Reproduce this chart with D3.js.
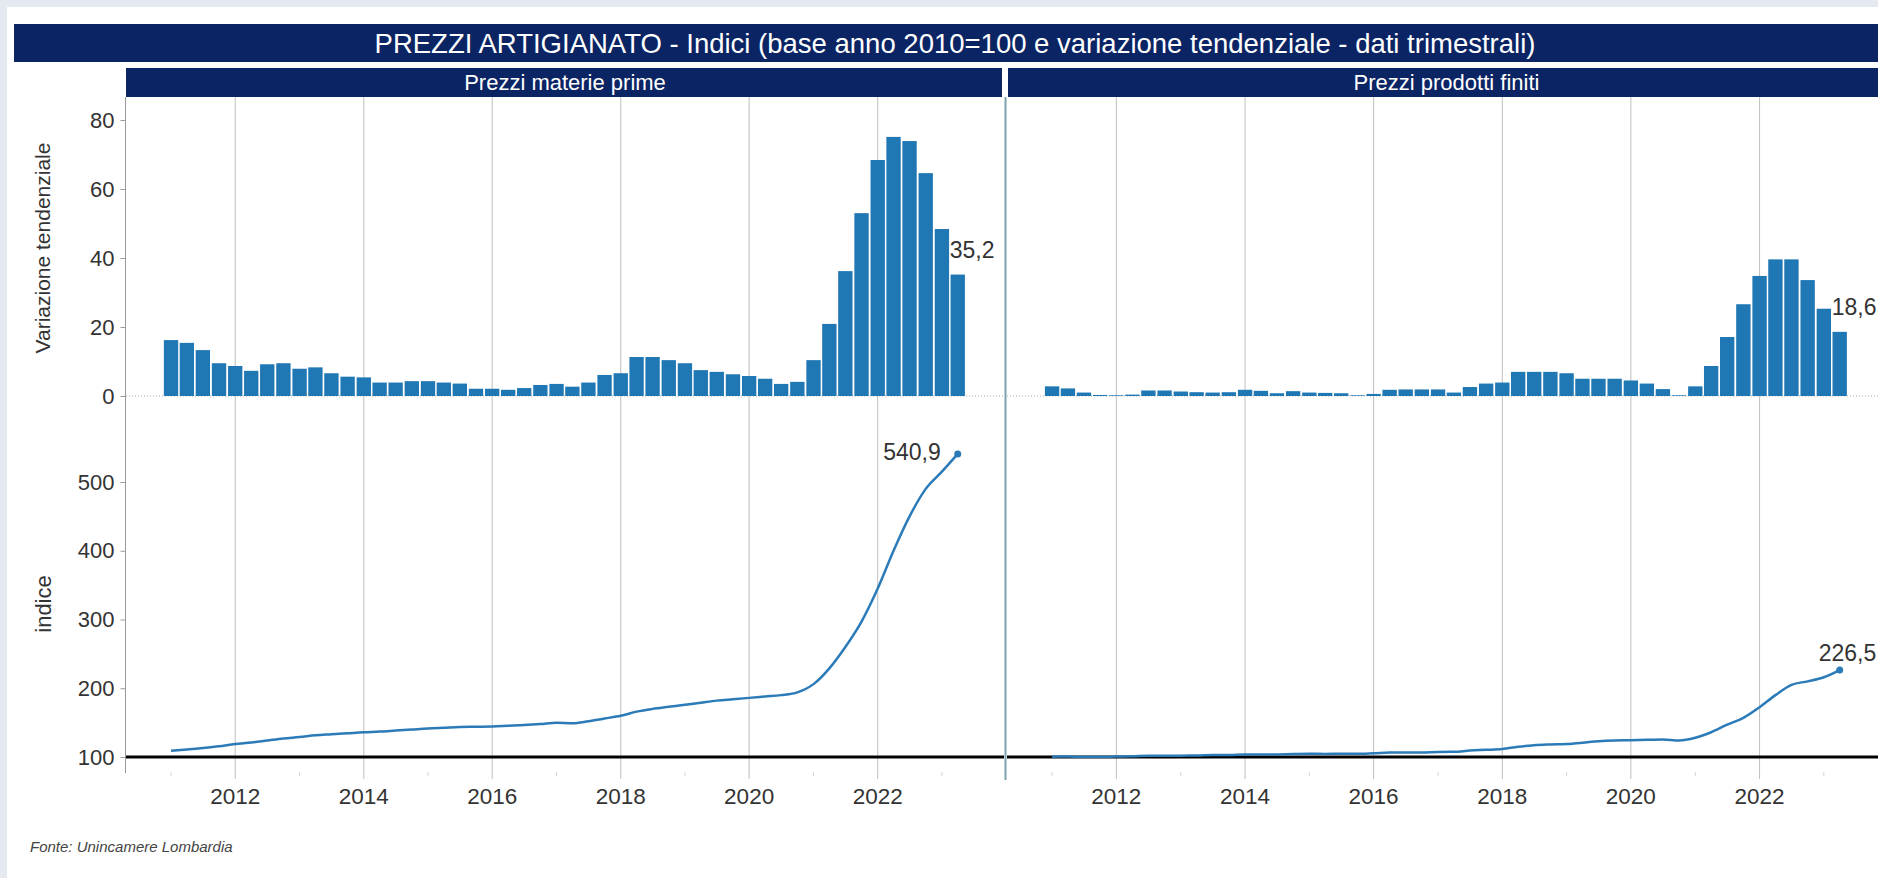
<!DOCTYPE html>
<html>
<head>
<meta charset="utf-8">
<script src="https://cdn.jsdelivr.net/npm/d3@7"></script>
<style>
  html, body { margin: 0; padding: 0; background: #e4e8ef; }
  svg { display: block; font-family: "Liberation Sans", Arial, sans-serif; }
</style>
</head>
<body>
<svg id="chart" width="1878" height="878"></svg>
<script>
// quarterly periods (first month of each quarter)
const periods = [
  '2011-01', '2011-04', '2011-07', '2011-10',
  '2012-01', '2012-04', '2012-07', '2012-10',
  '2013-01', '2013-04', '2013-07', '2013-10',
  '2014-01', '2014-04', '2014-07', '2014-10',
  '2015-01', '2015-04', '2015-07', '2015-10',
  '2016-01', '2016-04', '2016-07', '2016-10',
  '2017-01', '2017-04', '2017-07', '2017-10',
  '2018-01', '2018-04', '2018-07', '2018-10',
  '2019-01', '2019-04', '2019-07', '2019-10',
  '2020-01', '2020-04', '2020-07', '2020-10',
  '2021-01', '2021-04', '2021-07', '2021-10',
  '2022-01', '2022-04', '2022-07', '2022-10',
  '2023-01', '2023-04',
];

// variazione tendenziale (%)
const materiePrimeVar = [
  16.2, 15.4, 13.3, 9.5,
  8.7, 7.3, 9.2, 9.5,
  7.9, 8.3, 6.6, 5.6,
  5.4, 3.9, 3.9, 4.3,
  4.3, 3.9, 3.6, 2.1,
  2.1, 1.8, 2.3, 3.2,
  3.5, 2.7, 3.9, 6.1,
  6.6, 11.3, 11.3, 10.4,
  9.5, 7.5, 7.0, 6.3,
  5.8, 5.0, 3.5, 4.1,
  10.4, 20.9, 36.2, 53.0,
  68.4, 75.1, 73.9, 64.6,
  48.4, 35.2,
];
const prodottiFinitiVar = [
  2.8, 2.2, 1.0, 0.3,
  0.2, 0.4, 1.6, 1.6,
  1.3, 1.1, 1.0, 1.1,
  1.8, 1.5, 0.8, 1.4,
  1.0, 0.9, 0.8, 0.2,
  0.6, 1.8, 1.9, 1.9,
  1.9, 1.0, 2.6, 3.6,
  3.9, 7.0, 7.0, 7.0,
  6.6, 5.0, 5.0, 5.0,
  4.5, 3.6, 2.0, 0.2,
  2.8, 8.7, 17.1, 26.6,
  34.8, 39.6, 39.6, 33.6,
  25.3, 18.6,
];

// indici (base 2010=100)
const materiePrimeIdx = [
  109, 111, 113, 115.5,
  119, 121, 124, 127,
  129, 131.5, 133, 134.5,
  136, 137, 138.5, 140,
  141.5, 142.5, 143.5, 144,
  144.5, 145.5, 146.5, 148,
  150, 149, 152, 156,
  160, 166, 170, 173,
  176, 179, 182, 184,
  186, 188, 190, 194,
  206, 229, 260, 297,
  345, 400, 450, 490,
  515, 540.9,
];
const prodottiFinitiIdx = [
  100.5, 100.6, 100.4, 100.3,
  100.7, 101.0, 102.0, 101.9,
  102.0, 102.1, 103.0, 103.0,
  103.8, 103.6, 103.8, 104.4,
  104.8, 104.5, 104.6, 104.6,
  105.4, 106.4, 106.6, 106.6,
  107.4, 107.5, 109.4, 110.4,
  111.6, 115.0, 117.1, 118.2,
  119.0, 120.8, 123.0, 124.1,
  124.4, 125.1, 125.5, 124.0,
  128.0, 136.0, 147.0, 157.0,
  172.5, 190.0, 205.0, 210.0,
  216.0, 226.5,
];

// axis ticks
const yearTicks = [2012, 2014, 2016, 2018, 2020, 2022];
const minorYears = [2011, 2013, 2015, 2017, 2019, 2021, 2023];
const varTicks = [0, 20, 40, 60, 80];
const idxTicks = [100, 200, 300, 400, 500];

const panels = [
  { name: 'Prezzi materie prime', variation: materiePrimeVar, index: materiePrimeIdx, left: 126, right: 1004 },
  { name: 'Prezzi prodotti finiti', variation: prodottiFinitiVar, index: prodottiFinitiIdx, left: 1007, right: 1886 },
];

const navy = '#0b2463';
const blue = '#1f77b4';
const textColor = '#333';

const svg = d3.select('#chart');
const parseMonth = d3.timeParse('%Y-%m');
const dates = periods.map(parseMonth);

// italian number format (comma decimal)
const it = d3.formatLocale({ decimal: ',', thousands: '.', grouping: [3], currency: ['€', ''] });
const fmt = it.format('.1f');

// pane vertical layout
const paneTop = 97;
const axisBottom = 773;

// y scales shared by both panels
const yVar = d3.scaleLinear().domain([0, 80]).range([396, 120]);
const yIdx = d3.scaleLinear().domain([100, 500]).range([757, 482]);

// white background panel
svg.append('rect').attr('x', 7).attr('y', 7).attr('width', 1900).attr('height', 900).attr('fill', '#fff');

// main title bar
svg.append('rect').attr('x', 14).attr('y', 24).attr('width', 1890).attr('height', 38).attr('fill', navy);
svg.append('text')
  .attr('x', 955).attr('y', 43).attr('dy', '0.35em')
  .attr('text-anchor', 'middle')
  .attr('fill', '#fff').attr('font-size', 27.5)
  .text('PREZZI ARTIGIANATO - Indici (base anno 2010=100 e variazione tendenziale - dati trimestrali)');

panels.forEach(function (p, i) {
  const x = d3.scaleTime()
    .domain([new Date(2010, 3, 20), new Date(2023, 11, 20)])
    .range([p.left, p.right]);

  const g = svg.append('g');

  // sub header bar
  g.append('rect')
    .attr('x', p.left + (i === 0 ? 0 : 1)).attr('y', 68)
    .attr('width', p.right - p.left - 2).attr('height', 29)
    .attr('fill', navy);
  g.append('text')
    .attr('x', (p.left + p.right) / 2).attr('y', 82.5).attr('dy', '0.35em')
    .attr('text-anchor', 'middle').attr('fill', '#fff').attr('font-size', 22)
    .text(p.name);

  // vertical year gridlines
  g.selectAll('.grid')
    .data(yearTicks)
    .join('line')
    .attr('x1', d => x(new Date(d, 0, 1)))
    .attr('x2', d => x(new Date(d, 0, 1)))
    .attr('y1', paneTop).attr('y2', axisBottom + 6)
    .attr('stroke', '#bfbfbf').attr('stroke-width', 1);

  // minor ticks at odd years
  g.selectAll('.minor')
    .data(minorYears)
    .join('line')
    .attr('x1', d => x(new Date(d, 0, 1)))
    .attr('x2', d => x(new Date(d, 0, 1)))
    .attr('y1', axisBottom - 1).attr('y2', axisBottom + 3)
    .attr('stroke', '#d4d4d4').attr('stroke-width', 1);

  // year labels
  g.selectAll('.year')
    .data(yearTicks)
    .join('text')
    .attr('x', d => x(new Date(d, 0, 1)))
    .attr('y', 796).attr('dy', '0.35em')
    .attr('text-anchor', 'middle').attr('fill', textColor).attr('font-size', 22.5)
    .text(d => d);

  // dotted zero line in the variation pane
  g.append('line')
    .attr('x1', p.left).attr('x2', p.right)
    .attr('y1', yVar(0)).attr('y2', yVar(0))
    .attr('stroke', '#aaa').attr('stroke-dasharray', '1,2');

  // variation bars
  const step = x(dates[1]) - x(dates[0]);
  const barW = step - 1.5;
  g.selectAll('.bar')
    .data(p.variation)
    .join('rect')
    .attr('x', (d, j) => x(dates[j]) - barW / 2)
    .attr('y', d => yVar(Math.max(d, 0)))
    .attr('width', barW)
    .attr('height', d => Math.abs(yVar(d) - yVar(0)))
    .attr('fill', blue);

  // label on last bar
  const last = p.variation.length - 1;
  g.append('text')
    .attr('x', x(dates[last]) - 8)
    .attr('y', yVar(p.variation[last]) - 25).attr('dy', '0.35em')
    .attr('fill', textColor).attr('font-size', 23)
    .text(fmt(p.variation[last]));

  // reference line at 100
  g.append('line')
    .attr('x1', p.left).attr('x2', p.right)
    .attr('y1', yIdx(100)).attr('y2', yIdx(100))
    .attr('stroke', '#000').attr('stroke-width', 3);

  // index line
  const line = d3.line()
    .x((d, j) => x(dates[j]))
    .y(d => yIdx(d))
    .curve(d3.curveMonotoneX);
  g.append('path')
    .datum(p.index)
    .attr('d', line)
    .attr('fill', 'none')
    .attr('stroke', '#2b7bb9').attr('stroke-width', 2.5);

  // end point and label
  const lx = x(dates[last]);
  const ly = yIdx(p.index[last]);
  g.append('circle').attr('cx', lx).attr('cy', ly).attr('r', 3.5).attr('fill', '#2b7bb9');
  if (i === 0) {
    g.append('text')
      .attr('x', lx - 17).attr('y', ly - 2).attr('dy', '0.35em')
      .attr('text-anchor', 'end').attr('fill', textColor).attr('font-size', 23)
      .text(fmt(p.index[last]));
  } else {
    // kept inside the visible frame
    g.append('text')
      .attr('x', lx - 21).attr('y', ly - 17).attr('dy', '0.35em')
      .attr('fill', textColor).attr('font-size', 23)
      .text(fmt(p.index[last]));
  }
});

// divider between the two panels
svg.append('line')
  .attr('x1', 1005.5).attr('x2', 1005.5)
  .attr('y1', paneTop).attr('y2', axisBottom + 7)
  .attr('stroke', '#7ea3ad').attr('stroke-width', 2);

// left y axes
const axisVar = d3.axisLeft(yVar).tickValues(varTicks).tickSize(5).tickPadding(6);
const axisIdx = d3.axisLeft(yIdx).tickValues(idxTicks).tickSize(5).tickPadding(6);

[axisVar, axisIdx].forEach(function (ax) {
  const a = svg.append('g').attr('transform', 'translate(125.5,0)').call(ax);
  a.select('.domain').remove();
  a.selectAll('line').attr('stroke', '#999');
  a.selectAll('text')
    .attr('fill', textColor).attr('font-size', 22)
    .attr('font-family', '"Liberation Sans", Arial, sans-serif');
});

// y axis line
svg.append('line')
  .attr('x1', 125.5).attr('x2', 125.5)
  .attr('y1', paneTop).attr('y2', axisBottom)
  .attr('stroke', '#999');

// axis titles
svg.append('text')
  .attr('transform', 'translate(43,248) rotate(-90)')
  .attr('text-anchor', 'middle').attr('dy', '0.35em')
  .attr('fill', textColor).attr('font-size', 21)
  .text('Variazione tendenziale');
svg.append('text')
  .attr('transform', 'translate(43,604) rotate(-90)')
  .attr('text-anchor', 'middle').attr('dy', '0.35em')
  .attr('fill', textColor).attr('font-size', 22)
  .text('indice');

// source note
svg.append('text')
  .attr('x', 30).attr('y', 847).attr('dy', '0.35em')
  .attr('fill', '#444').attr('font-size', 15).attr('font-style', 'italic')
  .text('Fonte: Unincamere Lombardia');
</script>
</body>
</html>
